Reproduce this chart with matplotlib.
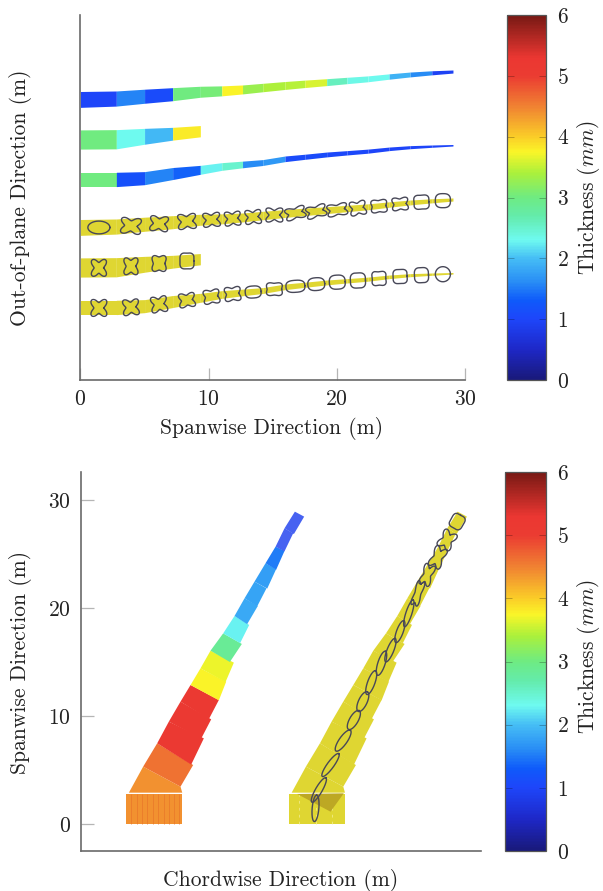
import numpy as np
import matplotlib
matplotlib.use("Agg")
import matplotlib.pyplot as plt
from matplotlib.colors import LinearSegmentedColormap, Normalize
from matplotlib.cm import ScalarMappable
from matplotlib.patches import Polygon

plt.rcParams['font.family'] = ['cmr10', 'DejaVu Serif']
plt.rcParams['mathtext.fontset'] = 'cm'
plt.rcParams['axes.formatter.use_mathtext'] = True

# colour scale
cmap_stops = [0, 0.5, 1, 1.3, 1.6, 2, 2.3, 2.7, 3, 3.4, 3.75, 4, 4.5, 5, 5.3, 6]
cmap_colors = ['#19197a', '#1e28c8', '#1e46fa', '#0f5afa', '#288cf5', '#46bef5',
               '#6efaf0', '#64ebaa', '#6eeb82', '#aaf03c', '#faf528', '#facd28',
               '#f08232', '#eb3c32', '#eb3732', '#781914']

# top panel, spanwise stations
span_edges = [0.05, 2.85, 5.05, 7.24, 9.4, 11.07, 12.69, 14.27, 16.0, 17.55, 19.25,
              20.83, 22.47, 24.12, 25.76, 27.45, 29.1]

# upper skin
upper_center = [21.88, 21.95, 22.13, 22.29, 22.48, 22.55, 22.66, 22.81, 22.97, 23.1,
                23.23, 23.36, 23.49, 23.67, 23.83, 23.96, 24.06]
upper_half = [.62, .59, .55, .51, .43, .39, .35, .33, .31, .29, .27, .25, .23, .21, .19, .16, .12]
upper_thick = [1.0, 1.55, 1.1, 3.0, 3.05, 3.75, 3.3, 3.4, 3.45, 3.6, 2.6, 2.35, 2.3, 1.9, 1.6, 0.95]

# spar
spar_center = [18.75, 18.77, 19.0, 19.2, 19.4]
spar_half = [.75, .75, .62, .5, .44]
spar_thick = [3.0, 2.3, 1.95, 3.8]

# lower skin
lower_center = [15.63, 15.63, 15.73, 16.09, 16.38, 16.64, 16.8, 16.95, 17.24, 17.4,
                17.58, 17.71, 17.84, 18.02, 18.15, 18.23, 18.3]
lower_half = [.56, .56, .51, .47, .35, .3, .26, .23, .22, .2, .19, .17, .16, .14, .12, .09, .06]
lower_thick = [3.0, 1.15, 1.55, 1.35, 2.25, 2.5, 1.6, 1.7, 1.1, 1.1, 1.05, 1.05, 1.0, 1.0, 1.0, 1.0]

# offset of the stress rows below the thickness rows
stress_offset = 10.0
stress_color = '#dfd632'

# section outlines in the side view: half width, half height, waist depth, tilt
upper_a = [.86, .78, .7, .7, .66, .62, .62, .66, .78, .78, .78, .62, .62, .62, .59, .59]
upper_b = [.5, .62, .59, .59, .55, .55, .55, .55, .47, .47, .47, .55, .5, .5, .55, .55]
upper_k = [0, .34, .34, .34, .34, .34, .34, .34, .3, .3, .27, .3, .18, .24, .1, .05]
upper_tilt = [0, -5, -5, 5, 5, 5, 5, 0, 15, 15, 10, 10, 5, 5, 3, 0]

spar_a = [.59, .55, .55, .55]
spar_b = [.66, .66, .62, .62]
spar_k = [.34, .3, .21, .09]
spar_tilt = [0, 0, 0, 0]

lower_a = [.62, .62, .62, .62, .62, .62, .62, .62, .74, .66, .62, .59, .55, .55, .55, .59]
lower_b = [.66, .62, .62, .55, .55, .55, .47, .5, .47, .5, .55, .59, .55, .55, .59, .59]
lower_k = [.34, .34, .34, .3, .24, .24, .05, .15, .05, .04, .05, .07, .13, .09, .07, 0]
lower_tilt = [0, 5, 8, 8, 8, 6, 4, 0, 4, 4, 3, 2, 2, 2, 2, 0]

# bottom panel, wing planform: corners of each panel
root_x = [4.19, 9.44]
root_y = [0.0, 2.8]
root_seams = [4.7, 5.2, 5.7, 6.2, 6.7, 7.2, 7.7, 8.2, 8.7, 9.1]
panel_x = [[4.48, 5.80, 9.26, 9.42], [5.80, 7.10, 10.43, 9.26], [7.10, 8.18, 11.42, 10.25],
           [8.18, 9.26, 12.10, 11.17], [9.26, 10.19, 12.81, 11.88], [10.19, 11.11, 13.49, 12.81],
           [11.11, 12.04, 14.20, 13.43], [12.04, 13.21, 14.94, 13.83], [13.21, 14.26, 15.62, 14.78],
           [14.26, 15.19, 16.42, 15.43], [15.19, 16.11, 17.22, 16.36], [16.11, 17.13, 18.12, 17.29],
           [17.13, 18.06, 18.89, 18.12], [18.06, 18.89, 19.69, 18.89], [18.89, 19.85, 20.71, 19.76]]
panel_y = [[2.9, 5.31, 3.46, 2.9], [5.31, 7.47, 5.46, 3.46], [7.47, 9.48, 7.93, 5.5],
           [9.48, 11.33, 9.69, 7.9], [11.33, 12.87, 11.48, 9.7], [12.87, 14.41, 13.18, 11.45],
           [14.41, 16.05, 14.94, 13.15], [16.05, 17.65, 16.67, 15.0], [17.65, 19.26, 18.43, 16.75],
           [19.26, 20.90, 20.19, 18.5], [20.90, 22.44, 21.82, 20.15], [22.44, 24.14, 23.61, 21.8],
           [24.14, 25.68, 25.28, 23.55], [25.68, 27.38, 26.91, 25.25], [27.38, 28.92, 28.46, 26.85]]
root_thick = 4.4
panel_thick = [4.4, 4.6, 5.15, 5.15, 5.15, 3.75, 3.7, 2.85, 2.25, 1.85, 1.8, 1.75, 1.5, 0.9, 0.9]

# second wing, shifted along the chord
wing_shift = 15.07
overlap_x = [20.06, 24.38, 23.15]
overlap_y = [2.78, 2.84, 1.14]

# section outlines in the planform view
plan_x = [21.76, 22.07, 23.15, 24.32, 25.31, 26.14, 26.92, 27.87, 28.7, 29.57, 30.4, 31.24, 32.1, 33.09, 33.95, 34.88]
plan_y = [1.45, 3.15, 5.46, 7.72, 9.63, 11.33, 13.09, 14.88, 16.1, 17.81, 19.5, 21.36, 23.06, 24.69, 26.3, 28.0]
plan_len = [1.23, 1.3, 1.3, 1.17, 1.0, 1.0, 1.17, 1.17, 1.17, 1.08, 1.3, 1.17, 1.0, 1.0, .86, .68]
plan_wid = [.31, .31, .31, .37, .4, .4, .34, .34, .31, .31, .28, .37, .52, .6, .68, .62]
plan_k = [0, 0, 0, 0, 0, 0, 0, 0, 0, 0, 0, .25, .34, .34, .34, .09]
plan_angle = [85, 60, 54, 55, 60, 65, 70, 72, 68, 70, 72, 72, 70, 65, 60, 60]

cmap = LinearSegmentedColormap.from_list(
    'thick', [(s / 6, c) for s, c in zip(cmap_stops, cmap_colors)])
norm = Normalize(0, 6)

W, H = 603, 891
AXIS_GRAY = '#6a6a6a'
TICK_GRAY = '#b5b5b5'
TEXT = '#222222'
FONT_SIZE = 15.5


def section(ax, cx, cy, a, b, k, angle):
    """Closed outline: ellipse for k=0, rounded box for small k, X shape for large k."""
    t = np.linspace(0, 2 * np.pi, 240)
    r = 1 - k * np.cos(4 * t)
    x = r * np.cos(t)
    y = r * np.sin(t)
    x = a * x / np.abs(x).max()
    y = b * y / np.abs(y).max()
    ang = np.radians(angle)
    ax.plot(cx + x * np.cos(ang) - y * np.sin(ang), cy + x * np.sin(ang) + y * np.cos(ang),
            color='#484858', lw=1.0, zorder=5)


def strip(ax, edges, center, half, thick=None, offset=0.0):
    for i in range(len(edges) - 1):
        pts = [(edges[i], center[i] - half[i] - offset),
               (edges[i + 1], center[i + 1] - half[i + 1] - offset),
               (edges[i + 1], center[i + 1] + half[i + 1] - offset),
               (edges[i], center[i] + half[i] - offset)]
        color = stress_color if thick is None else cmap(norm(thick[i]))
        ax.add_patch(Polygon(pts, closed=True, fc=color, ec='none', zorder=2))


def sections(ax, edges, center, a, b, k, tilt):
    for i in range(len(a)):
        xm = (edges[i] + edges[i + 1]) / 2
        ym = (center[i] + center[i + 1]) / 2 - stress_offset
        section(ax, xm, ym, a[i], b[i], k[i], tilt[i])


def axes_px(fig, left, right, top, bottom):
    return fig.add_axes([left / W, 1 - bottom / H, (right - left) / W, (bottom - top) / H])


def style_axis(ax):
    ax.spines['top'].set_visible(False)
    ax.spines['right'].set_visible(False)
    ax.spines['left'].set_color(AXIS_GRAY)
    ax.spines['bottom'].set_color(AXIS_GRAY)
    ax.spines['left'].set_linewidth(1.2)
    ax.spines['bottom'].set_linewidth(1.2)
    ax.tick_params(direction='in', length=9, width=0.9, color=TICK_GRAY,
                   labelsize=FONT_SIZE, labelcolor=TEXT, pad=7)


def colorbar(fig, left, right, top, bottom):
    cax = axes_px(fig, left, right, top, bottom)
    cb = fig.colorbar(ScalarMappable(norm=norm, cmap=cmap), cax=cax)
    cb.set_ticks([0, 1, 2, 3, 4, 5, 6])
    cb.outline.set_edgecolor('#555555')
    cb.outline.set_linewidth(0.9)
    cax.tick_params(direction='in', length=5, width=0.7, left=True, right=True,
                    color='#00000040', labelsize=FONT_SIZE, labelcolor=TEXT, pad=8)


fig = plt.figure(figsize=(W / 100, H / 100), dpi=100)

# side view
ax1 = axes_px(fig, 80.3, 465, 15, 380)
ax1.set_xlim(0, 30)
ax1.set_ylim(0, 365 / 12.8)
style_axis(ax1)
ax1.set_xticks([0, 10, 20, 30])
ax1.set_yticks([])

strip(ax1, span_edges, upper_center, upper_half, upper_thick)
strip(ax1, span_edges[:5], spar_center, spar_half, spar_thick)
strip(ax1, span_edges, lower_center, lower_half, lower_thick)
strip(ax1, span_edges, upper_center, upper_half, offset=stress_offset)
strip(ax1, span_edges[:5], spar_center, spar_half, offset=stress_offset)
strip(ax1, span_edges, lower_center, lower_half, offset=stress_offset)
sections(ax1, span_edges, upper_center, upper_a, upper_b, upper_k, upper_tilt)
sections(ax1, span_edges[:5], spar_center, spar_a, spar_b, spar_k, spar_tilt)
sections(ax1, span_edges, lower_center, lower_a, lower_b, lower_k, lower_tilt)

# planform view
ax2 = axes_px(fig, 80.5, 481, 472, 851)
ax2.set_xlim(0, 400.5 / 10.8)
ax2.set_ylim(-27 / 10.8, 352 / 10.8)
style_axis(ax2)
ax2.set_xticks([])
ax2.set_yticks([0, 10, 20, 30])

root_pts = [(root_x[0], root_y[0]), (root_x[1], root_y[0]), (root_x[1], root_y[1]), (root_x[0], root_y[1])]
ax2.add_patch(Polygon(root_pts, closed=True, fc=cmap(norm(root_thick)), ec='none', zorder=2))
ax2.add_patch(Polygon([(x + wing_shift, y) for x, y in root_pts], closed=True,
                      fc=stress_color, ec='none', zorder=2))
ax2.vlines(root_seams, root_y[0], root_y[1], color='#e8762a', lw=0.5, zorder=3)
ax2.vlines(np.array(root_seams[1::3]) + wing_shift, root_y[0], root_y[1], color='#f4ef9a',
           lw=0.5, linestyles=(0, (4, 6)), zorder=3)
for xs, ys, th in zip(panel_x, panel_y, panel_thick):
    ax2.add_patch(Polygon(list(zip(xs, ys)), closed=True, fc=cmap(norm(th)), ec='none', zorder=2,
                          alpha=0.82 if th < 1 else 1))
    ax2.add_patch(Polygon([(x + wing_shift, y) for x, y in zip(xs, ys)], closed=True,
                          fc=stress_color, ec='none', zorder=2))
ax2.add_patch(Polygon(list(zip(overlap_x, overlap_y)), closed=True, fc='#bda824', ec='none', zorder=3))
for i in range(len(plan_x)):
    section(ax2, plan_x[i], plan_y[i], plan_len[i], plan_wid[i], plan_k[i], plan_angle[i])

colorbar(fig, 507, 546, 15, 380)
colorbar(fig, 505, 546, 472, 851)

# labels
fig.text(272 / W, 1 - 428 / H, 'Spanwise Direction (m)', ha='center', va='center', fontsize=FONT_SIZE, color=TEXT)
fig.text(281 / W, 1 - 881 / H, 'Chordwise Direction (m)', ha='center', va='center', fontsize=FONT_SIZE, color=TEXT)
fig.text(21 / W, 1 - 198 / H, 'Out-of-plane Direction (m)', ha='center', va='center',
         rotation=90, fontsize=FONT_SIZE, color=TEXT)
fig.text(21 / W, 1 - 662 / H, 'Spanwise Direction (m)', ha='center', va='center',
         rotation=90, fontsize=FONT_SIZE, color=TEXT)
fig.text(588 / W, 1 - 198 / H, 'Thickness ($mm$)', ha='center', va='center',
         rotation=90, fontsize=FONT_SIZE, color=TEXT)
fig.text(588 / W, 1 - 657 / H, 'Thickness ($mm$)', ha='center', va='center',
         rotation=90, fontsize=FONT_SIZE, color=TEXT)

fig.savefig('out.png', dpi=100)
